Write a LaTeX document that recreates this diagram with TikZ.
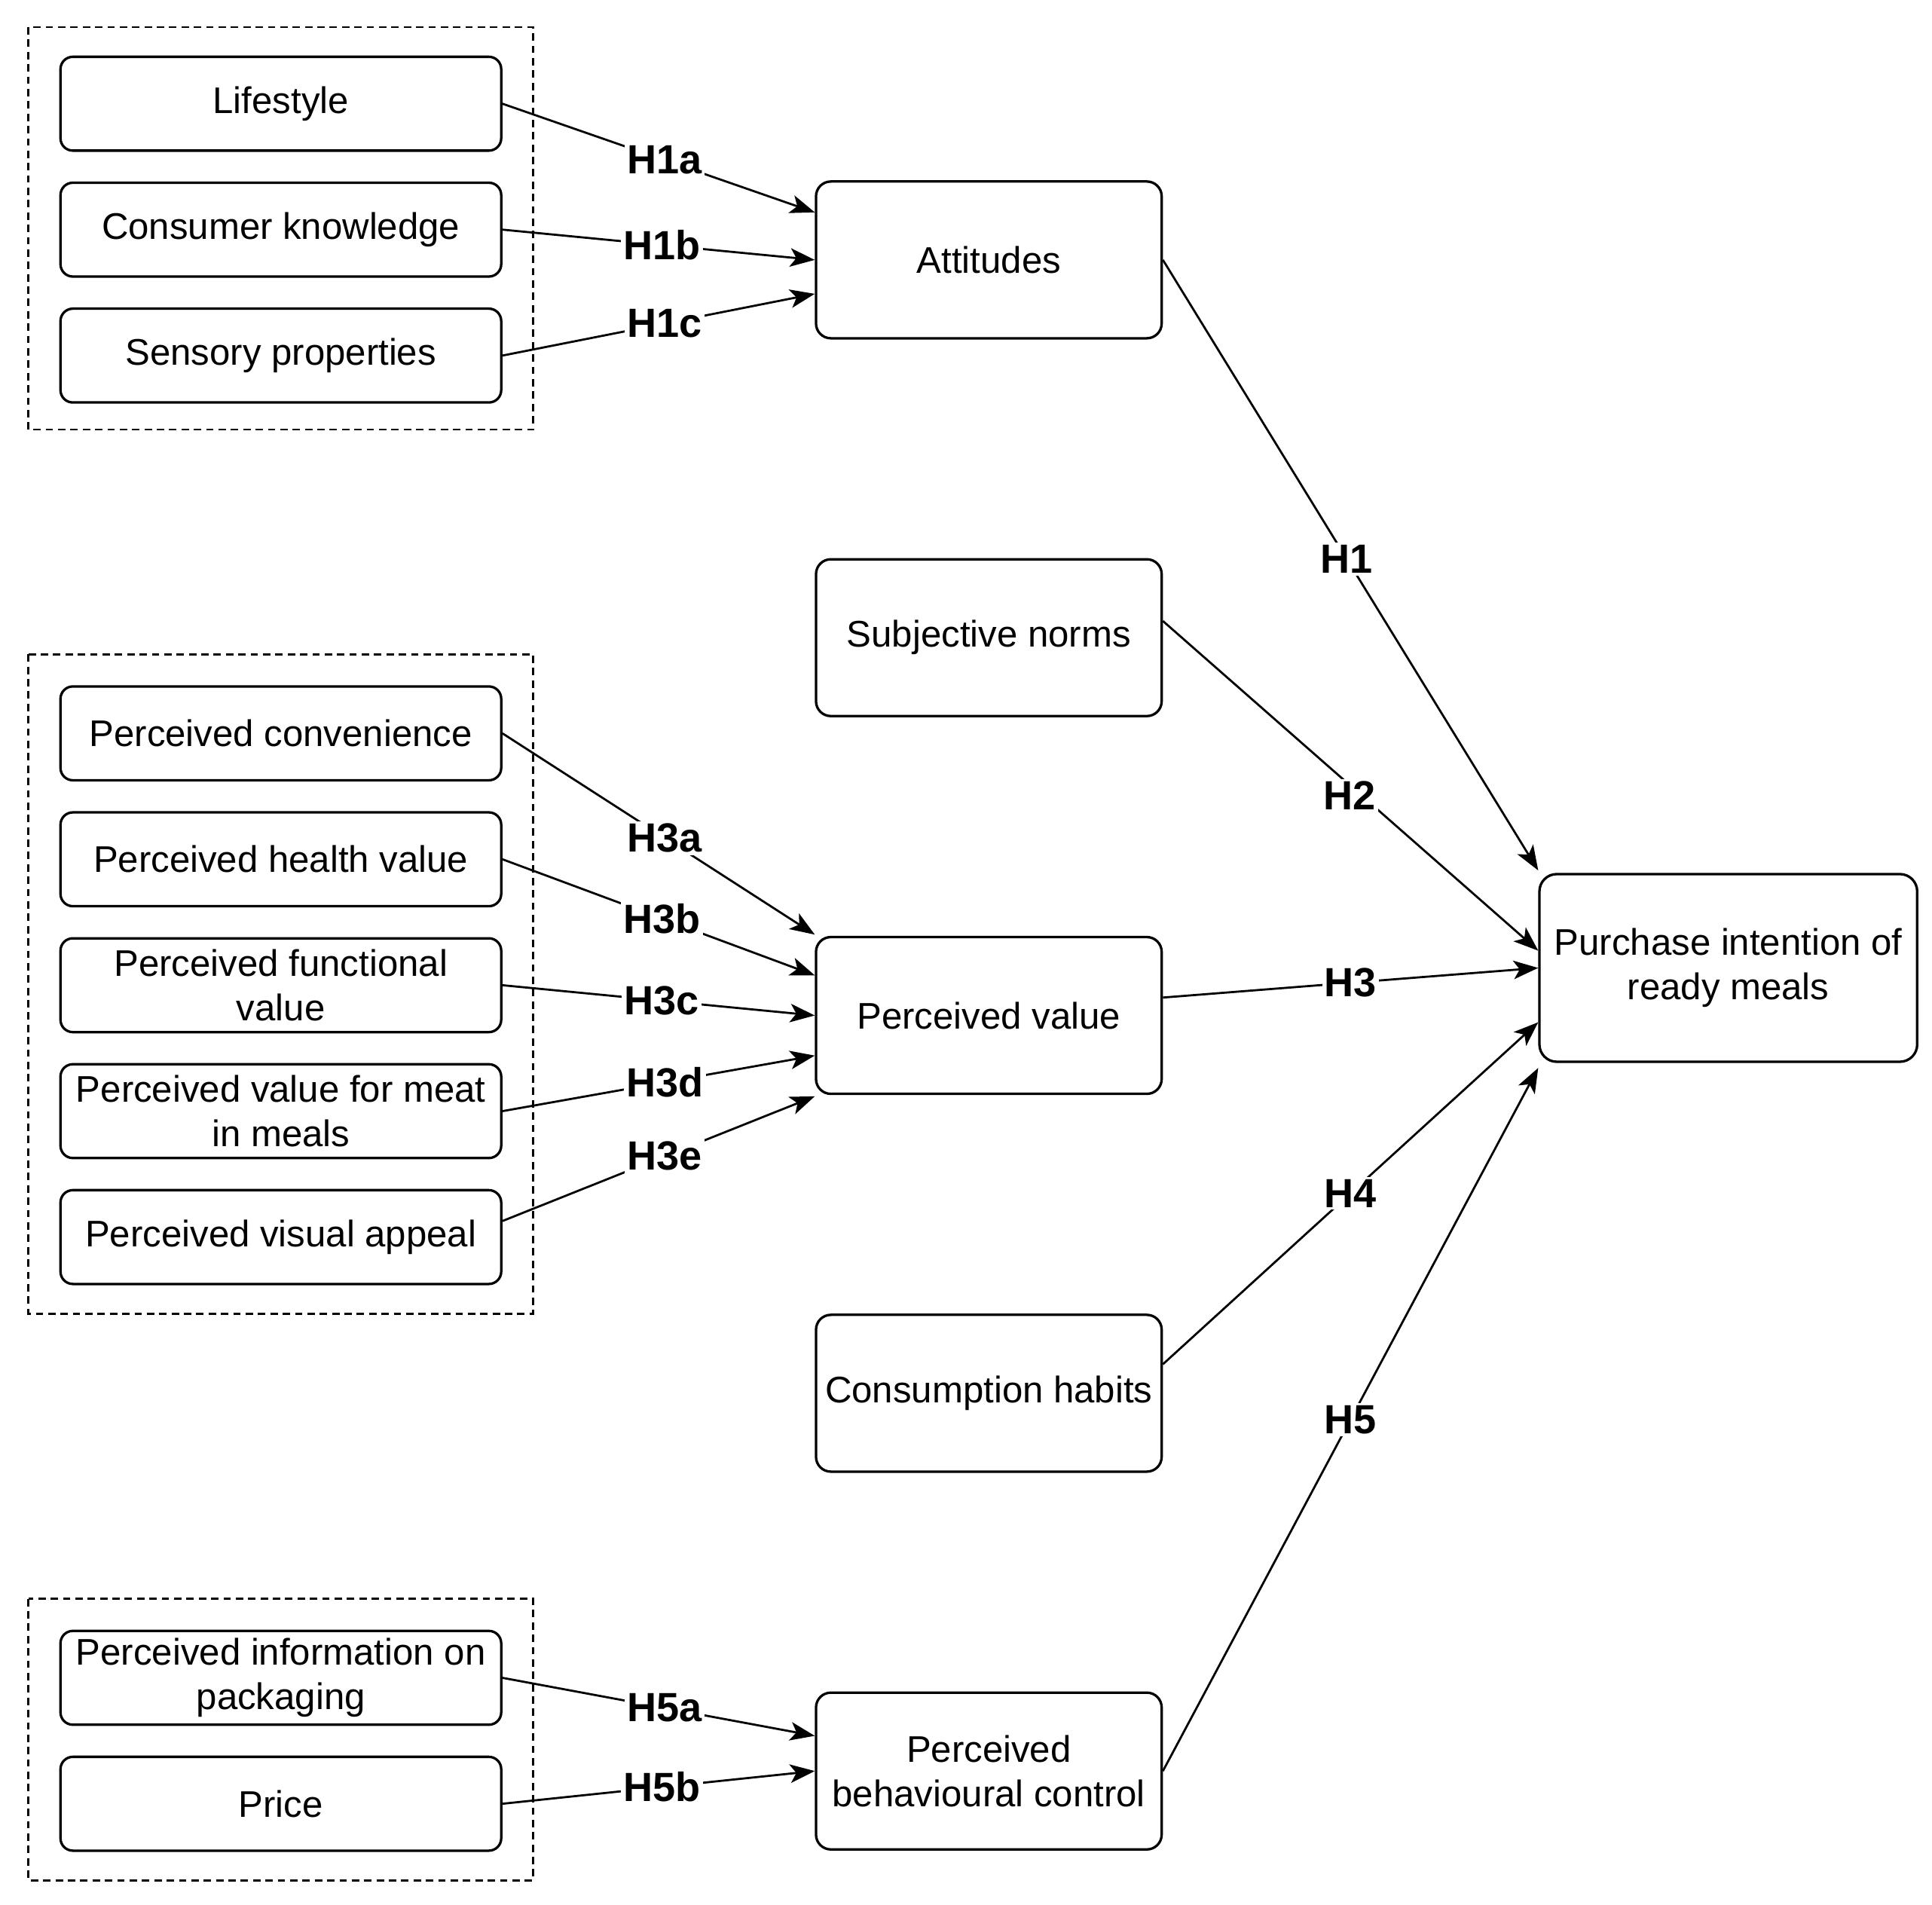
\documentclass[tikz,border=0pt]{standalone}
\usepackage{fontspec}
\setmainfont{Liberation Sans}
\usetikzlibrary{arrows.meta}
\begin{document}
\begin{tikzpicture}[x=0.5pt,y=-0.5pt,
  smallbox/.style={draw,line width=1pt,rounded corners=5pt,minimum width=178.5pt,minimum height=38pt,align=center,inner sep=1pt,font=\fontsize{15}{18}\selectfont},
  midbox/.style={draw,line width=1pt,rounded corners=6pt,minimum width=140pt,minimum height=63.5pt,align=center,inner sep=1pt,font=\fontsize{15}{18}\selectfont},
  bigbox/.style={draw,line width=1pt,rounded corners=7pt,minimum width=153pt,minimum height=76pt,align=center,inner sep=1pt,font=\fontsize{15}{18}\selectfont},
  grp/.style={draw,line width=0.8pt,dash pattern=on 3pt off 2pt},
  link/.style={line width=0.85pt,-{Stealth[length=10pt,width=7.5pt,inset=2.5pt]}},
  hlab/.style={fill=white,inner sep=1pt,font=\bfseries\fontsize{16.5}{18}\selectfont}]
\useasboundingbox (0,0) rectangle (1565,1543);
\fill[white] (0,0) rectangle (1565,1543);
% groups
\draw[grp] (23,22) rectangle (432,348);
\draw[grp] (23,530) rectangle (432,1064);
\draw[grp] (23,1295) rectangle (432,1523);
% left boxes
\node[smallbox] (life) at (227.5,84) {Lifestyle};
\node[smallbox] (ck) at (227.5,186) {Consumer knowledge};
\node[smallbox] (sp) at (227.5,288) {Sensory properties};
\node[smallbox] (pc) at (227.5,594) {Perceived convenience};
\node[smallbox] (phv) at (227.5,696) {Perceived health value};
\node[smallbox] (pfv) at (227.5,798) {Perceived functional\\value};
\node[smallbox] (pvm) at (227.5,900) {Perceived value for meat\\in meals};
\node[smallbox] (pva) at (227.5,1002) {Perceived visual appeal};
\node[smallbox] (pip) at (227.5,1359) {Perceived information on\\packaging};
\node[smallbox] (price) at (227.5,1461) {Price};
% middle boxes
\node[midbox] (att) at (801,210.5) {Attitudes};
\node[midbox] (sn) at (801,516.5) {Subjective norms};
\node[midbox] (pv) at (801,822.5) {Perceived value};
\node[midbox] (ch) at (801,1128.5) {Consumption habits};
\node[midbox] (pbc) at (801,1434.5) {Perceived\\behavioural control};
% target
\node[bigbox] (pi) at (1400,784) {Purchase intention of\\ready meals};
% group 1 arrows
\draw[link] (life.east) -- node[hlab,pos=0.52] {H1a} ([yshift=19.25pt]att.west);
\draw[link] (ck.east) -- node[hlab,pos=0.51] {H1b} (att.west);
\draw[link] (sp.east) -- node[hlab,pos=0.52] {H1c} ([yshift=-13.75pt]att.west);
% group 2 arrows
\draw[link] (pc.east) -- node[hlab,pos=0.52] {H3a} ([yshift=0.5pt]pv.north west);
\draw[link] (phv.east) -- node[hlab,pos=0.51] {H3b} ([yshift=16.25pt]pv.west);
\draw[link] (pfv.east) -- node[hlab,pos=0.51] {H3c} (pv.west);
\draw[link] (pvm.east) -- node[hlab,pos=0.52] {H3d} ([yshift=-16.25pt]pv.west);
\draw[link] ([yshift=6.5pt]pva.east) -- node[hlab,pos=0.52] {H3e} ([yshift=-0.5pt]pv.south west);
% group 3 arrows
\draw[link] (pip.east) -- node[hlab,pos=0.52] {H5a} ([yshift=14.25pt]pbc.west);
\draw[link] (price.east) -- node[hlab,pos=0.51] {H5b} (pbc.west);
% to target
\draw[link] (att.east) -- node[hlab,pos=0.49] {H1} ([yshift=1pt]pi.north west);
\draw[link] ([yshift=6.75pt]sn.east) -- node[hlab,pos=0.53,xshift=-5pt] {H2} ([yshift=7pt]pi.west);
\draw[link] ([yshift=7.25pt]pv.east) -- node[hlab] {H3} (pi.west);
\draw[link] ([yshift=11.75pt]ch.east) -- node[hlab] {H4} ([yshift=-22pt]pi.west);
\draw[link] (pbc.east) -- node[hlab] {H5} ([yshift=-2pt]pi.south west);
\end{tikzpicture}
\end{document}
